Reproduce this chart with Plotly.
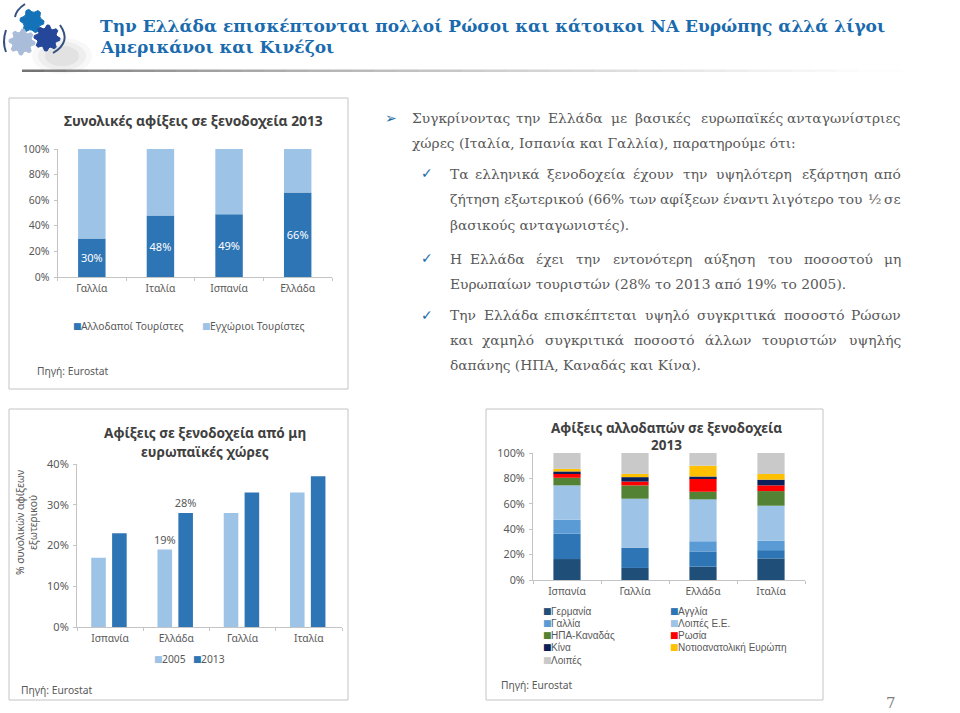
import math
import numpy as np
import plotly.graph_objects as go

W, H = 960, 713

# ---------- data ----------
c1_categories = ["Γαλλία", "Ιταλία", "Ισπανία", "Ελλάδα"]
c1_foreign = [30, 48, 49, 66]
c1_domestic = [70, 52, 51, 34]

c2_categories = ["Ισπανία", "Ελλάδα", "Γαλλία", "Ιταλία"]
c2_2005 = [17, 19, 28, 33]
c2_2013 = [23, 28, 33, 37]
c2_labels_2005 = ["", "19%", "", ""]
c2_labels_2013 = ["", "28%", "", ""]

c3_categories = ["Ισπανία", "Γαλλία", "Ελλάδα", "Ιταλία"]
c3_germany = [16.5, 9.5, 10.5, 17]
c3_england = [20, 16, 12, 6.5]
c3_france = [11, 0, 8, 7.5]
c3_other_eu = [27, 38.5, 33, 27.5]
c3_usa = [6, 10.5, 6, 11.5]
c3_russia = [3.5, 3, 10.5, 4.5]
c3_china = [1.5, 3.5, 1.5, 4.5]
c3_se_europe = [2, 2.5, 8.5, 4.5]
c3_rest = [12.5, 16.5, 10, 16.5]

DARK, LIGHT = "#2e75b6", "#9dc3e6"
c3_names = ["Γερμανία", "Αγγλία", "Γαλλία", "Λοιπές Ε.Ε.", "ΗΠΑ-Καναδάς", "Ρωσία", "Κίνα",
            "Νοτιοανατολική Ευρώπη", "Λοιπές"]
c3_colors = ["#1f4e79", "#2e75b6", "#5b9bd5", "#9dc3e6", "#548235", "#ff0000", "#0b1f5b", "#ffc000", "#c9c9c9"]
c3_series = [c3_germany, c3_england, c3_france, c3_other_eu, c3_usa, c3_russia, c3_china, c3_se_europe, c3_rest]

title_lines = ["Την Ελλάδα επισκέπτονται πολλοί Ρώσοι και κάτοικοι ΝΑ Ευρώπης αλλά λίγοι",
               "Αμερικάνοι και Κινέζοι"]

body_lines = [
    ("Συγκρίνοντας την Ελλάδα με βασικές ευρωπαϊκές ανταγωνίστριες", 411, 118, True),
    ("χώρες (Ιταλία, Ισπανία και Γαλλία), παρατηρούμε ότι:", 411, 143, False),
    ("Τα ελληνικά ξενοδοχεία έχουν την υψηλότερη εξάρτηση από", 449, 174, True),
    ("ζήτηση εξωτερικού (66% των αφίξεων έναντι λιγότερο του ½ σε", 449, 199, True),
    ("βασικούς ανταγωνιστές).", 449, 225, False),
    ("Η Ελλάδα έχει την εντονότερη αύξηση του ποσοστού μη", 449, 259, True),
    ("Ευρωπαίων τουριστών (28% το 2013 από 19% το 2005).", 449, 284, False),
    ("Την Ελλάδα επισκέπτεται υψηλό συγκριτικά ποσοστό Ρώσων", 449, 315, True),
    ("και χαμηλό συγκριτικά ποσοστό άλλων τουριστών υψηλής", 449, 340, True),
    ("δαπάνης (ΗΠΑ, Καναδάς και Κίνα).", 449, 365, False),
]
bullets = [("➢", 391, 118), ("✓", 427, 173), ("✓", 427, 258), ("✓", 427, 315)]

# ---------- helpers ----------
px = lambda x: x / W
py = lambda y: 1 - y / H
SANS, SERIF = "Noto Sans", "DejaVu Serif"
TXT = "#595959"
annotations, shapes = [], []


def note(text, x, y, size=10.3, color=TXT, font=SANS, anchor="left", bold=False, angle=0):
    annotations.append(dict(
        text=f"<b>{text}</b>" if bold else text, x=px(x), y=py(y), xref="paper", yref="paper",
        showarrow=False, xanchor=anchor, yanchor="middle", align="center", textangle=angle,
        borderpad=0, font=dict(family=font, size=size, color=color)))


def key(color, x, y, label, size=10.3, font=SANS):
    note("■", x, y, size=9, color=color, font="DejaVu Sans")
    note(label, x + 8, y, size=size, font=font)


def rect(x0, y0, x1, y1, **kw):
    shapes.append(dict(type="rect", xref="paper", yref="paper", x0=px(x0), x1=px(x1), y0=py(y0), y1=py(y1),
                       layer="below", **kw))


def gear(cx, cy, r, teeth, color):
    pts = []
    for i in range(teeth * 4):
        a = 2 * math.pi * i / (teeth * 4)
        rr = r if i % 4 in (0, 1) else r * 0.76
        pts.append((px(cx + rr * math.cos(a)), py(cy + rr * math.sin(a))))
    path = "M" + "L".join(f"{a:.5f},{b:.5f}" for a, b in pts) + "Z"
    shapes.append(dict(type="path", xref="paper", yref="paper", path=path, fillcolor=color,
                       line=dict(color=color, width=1), layer="above"))


def arc(p0, p1, p2):
    path = f"M{px(p0[0]):.5f},{py(p0[1]):.5f}Q{px(p1[0]):.5f},{py(p1[1]):.5f} {px(p2[0]):.5f},{py(p2[1]):.5f}"
    shapes.append(dict(type="path", xref="paper", yref="paper", path=path,
                       line=dict(color="#34507f", width=2), layer="above"))


# rough advance widths of the serif face, in em, used to justify lines word by word
EM = {}
for chars, w in [("ιί", .34), ("τ", .52), ("ζςεέξ", .53), ("γνχ", .57), ("ακλοόπά", .61), ("βδηήμρσ", .64),
                 ("υύ", .62), ("φψ", .80), ("ωώ", .84), ("0123456789", .64), ("%", .95), ("½", .97),
                 ("(),.:", .36), ("ΗΠΤΕΡΙΣΓ", .72)]:
    for ch in chars:
        EM[ch] = w


def word_width(word, size):
    return sum(EM.get(ch, .66) for ch in word) * size


# ---------- panels, rule, logo ----------
for x0, y0, x1, y1 in [(9, 98, 348, 389), (9, 409, 348, 700), (486, 409, 823, 700)]:
    rect(x0, y0, x1, y1, line=dict(color="#c4c4c4", width=1), fillcolor="white")

for i in range(40):
    x0 = 22 + i * 22
    v = int(115 + 138 * min(1, i / 38) ** 0.7)
    rect(x0, 69.5, x0 + 22, 72, line=dict(width=0), fillcolor=f"rgb({v},{v},{v})")

for rad, op in [(30, 0.05), (24, 0.07), (17, 0.09)]:
    shapes.append(dict(type="circle", xref="paper", yref="paper", layer="below", line=dict(width=0),
                       fillcolor=f"rgba(110,110,110,{op})", x0=px(62 - rad), x1=px(62 + rad),
                       y0=py(56 - rad * .6), y1=py(56 + rad * .6)))
gear(32, 21, 12, 6, "#1473b8")
gear(22, 42, 13, 8, "#a9bcd9")
gear(47, 38, 13, 8, "#24479a")
arc((6, 30), (2, 42), (6, 52))
arc((15, 17), (16, 10), (25, 4))
arc((60, 25), (72, 42), (53, 53))

# ---------- texts ----------
for line, y in zip(title_lines, (26, 47)):
    note(line, 99, y, size=17, color="#1a6bae", font=SERIF, bold=True)

HEAD = "#404040"
note("Συνολικές αφίξεις σε ξενοδοχεία 2013", 193.5, 120, size=13.8, color=HEAD, anchor="center", bold=True)
note("Αφίξεις σε ξενοδοχεία από μη", 205, 432, size=13.6, color=HEAD, anchor="center", bold=True)
note("ευρωπαϊκές χώρες", 205, 451.5, size=13.6, color=HEAD, anchor="center", bold=True)
note("Αφίξεις αλλοδαπών σε ξενοδοχεία", 666, 428, size=13.5, color=HEAD, anchor="center", bold=True)
note("2013", 666, 445, size=13.5, color=HEAD, anchor="center", bold=True)
note("Πηγή: Eurostat", 36, 371)
note("Πηγή: Eurostat", 20, 690)
note("Πηγή: Eurostat", 500, 685)
note("7", 891, 703, size=15, color="#7f7f7f", font=SERIF, anchor="center")
note("% συνολικών αφίξεων<br>εξωτερικού", 26, 523, size=10.3, anchor="center", angle=-90)

key(DARK, 72, 326, "Αλλοδαποί Τουρίστες")
key(LIGHT, 201, 326, "Εγχώριοι Τουρίστες")
key(LIGHT, 153, 659, "2005")
key(DARK, 192, 659, "2013")
col_x = [542, 669]
col_y = [611, 623, 635, 647, 660]
for i, (name, col) in enumerate(zip(c3_names, c3_colors)):
    key(col, col_x[i % 2], col_y[i // 2], name, size=10, font="Liberation Sans")

BODY_SIZE = 13.8
BODY = "#595959"
RIGHT = 902
for text, x, y, just in body_lines:
    if not just:
        note(text, x, y, size=BODY_SIZE, color=BODY, font=SERIF)
        continue
    words = text.split(" ")
    widths = [word_width(w, BODY_SIZE) for w in words]
    gap = (RIGHT - x - sum(widths)) / (len(words) - 1)
    pos = x
    for i, (w, wd) in enumerate(zip(words, widths)):
        if i == 0:
            note(w, x, y, size=BODY_SIZE, color=BODY, font=SERIF)
        elif i == len(words) - 1:
            note(w, RIGHT, y, size=BODY_SIZE, color=BODY, font=SERIF, anchor="right")
        else:
            note(w, pos + wd / 2, y, size=BODY_SIZE, color=BODY, font=SERIF, anchor="center")
        pos += wd + gap
for sym, x, y in bullets:
    note(sym, x, y, size=14, color="#1f6ea8", font="DejaVu Sans", anchor="center")

# ---------- traces ----------
fig = go.Figure()
BW = 0.4


def stacked(cats, values, base, color, name, xa, ya, text=None):
    fig.add_trace(go.Bar(x=cats, y=values, base=base, name=name, marker=dict(color=color, line=dict(width=0)),
                         width=BW, offset=-BW / 2, xaxis=xa, yaxis=ya, showlegend=False,
                         text=text, textposition="inside" if text else None, insidetextanchor="middle",
                         textangle=0, constraintext="none",
                         textfont=dict(family=SANS, size=11, color="white")))


stacked(c1_categories, c1_foreign, [0] * 4, DARK, "Αλλοδαποί Τουρίστες", "x", "y", [f"{v}%" for v in c1_foreign])
stacked(c1_categories, c1_domestic, c1_foreign, LIGHT, "Εγχώριοι Τουρίστες", "x", "y")

for vals, labels, col, off, name in [(c2_2005, c2_labels_2005, LIGHT, -0.285, "2005"),
                                     (c2_2013, c2_labels_2013, DARK, 0.03, "2013")]:
    fig.add_trace(go.Bar(x=c2_categories, y=vals, name=name, marker=dict(color=col, line=dict(width=0)),
                         width=0.22, offset=off, xaxis="x2", yaxis="y2", showlegend=False, text=labels,
                         textposition="outside", cliponaxis=False, textangle=0, constraintext="none",
                         textfont=dict(family=SANS, size=11, color=TXT)))

bottom = np.zeros(4)
for vals, col, name in zip(c3_series, c3_colors, c3_names):
    stacked(c3_categories, vals, bottom.tolist(), col, name, "x3", "y3")
    bottom = bottom + np.array(vals)

# ---------- axes ----------
AX = "#c4c4c4"


def xaxis(x0, x1, anchor):
    return dict(domain=[px(x0), px(x1)], anchor=anchor, type="category", range=[-0.5, 3.5], showgrid=False,
                showline=True, linecolor=AX, linewidth=1, ticks="outside", tickson="boundaries", ticklen=3,
                tickcolor=AX, tickfont=dict(family=SANS, size=10.3, color=TXT), fixedrange=True, automargin=False,
                ticklabelstandoff=2)


def yaxis(y0, y1, rng, dt, anchor, size=10.5):
    return dict(domain=[py(y1), py(y0)], range=rng, dtick=dt, ticksuffix="%", showgrid=False, showline=True,
                linecolor=AX, linewidth=1, ticks="outside", ticklen=3, tickcolor=AX, zeroline=False,
                tickfont=dict(family=SANS, size=size, color=TXT), fixedrange=True, automargin=False,
                ticklabelstandoff=2, anchor=anchor)


fig.update_layout(
    width=W, height=H, autosize=False, margin=dict(l=0, r=0, t=0, b=0, autoexpand=False),
    paper_bgcolor="white", plot_bgcolor="rgba(0,0,0,0)", barmode="overlay", showlegend=False,
    xaxis=xaxis(57.5, 332, "y"), yaxis=yaxis(149, 277, [0, 100], 20, "x"),
    xaxis2=xaxis(77, 342, "y2"), yaxis2=yaxis(464, 627, [0, 40], 10, "x2", size=11),
    xaxis3=xaxis(533, 805, "y3"), yaxis3=yaxis(453, 580, [0, 100], 20, "x3", size=10.8),
    annotations=annotations, shapes=shapes,
)
fig.write_html("out.html", config=dict(displayModeBar=False),
               post_script="document.body.style.margin='0';document.body.style.overflow='hidden';")
